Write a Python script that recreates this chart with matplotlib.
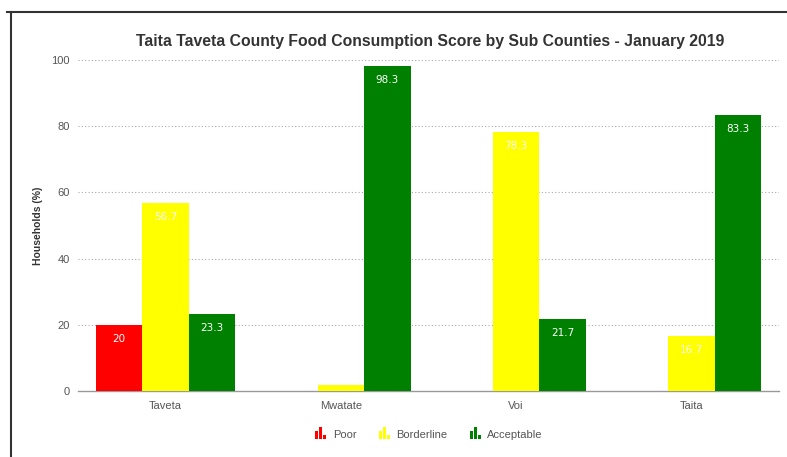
#!/usr/bin/env python3
import numpy as np
import matplotlib
matplotlib.use('Agg')
import matplotlib.pyplot as plt
from matplotlib.patches import Rectangle
from matplotlib.legend_handler import HandlerBase
from matplotlib.lines import Line2D

# Dati: percentuale di famiglie per categoria FCS
sub_counties = ['Taveta', 'Mwatate', 'Voi', 'Taita']
poor = [20, 0, 0, 0]
borderline = [56.7, 1.7, 78.3, 16.7]
acceptable = [23.3, 98.3, 21.7, 83.3]
yticks = [0, 20, 40, 60, 80, 100]

series = [('Poor', poor, '#ff0000'),
          ('Borderline', borderline, '#ffff00'),
          ('Acceptable', acceptable, '#008000')]

plt.rcParams['font.family'] = ['Liberation Sans', 'DejaVu Sans']


class BarIconHandler(HandlerBase):
    # piccola icona a barre per la legenda
    def create_artists(self, legend, orig_handle, xdescent, ydescent,
                       width, height, fontsize, trans):
        color = orig_handle.get_facecolor()
        w = width / 4.0
        heights = [0.75, 1.15, 0.4]
        arts = []
        for i, h in enumerate(heights):
            r = Rectangle((-xdescent + i * (w + width * 0.08), -ydescent),
                          w, height * h, facecolor=color, edgecolor='none',
                          transform=trans)
            arts.append(r)
        return arts


fig = plt.figure(figsize=(7.87, 4.57), dpi=100)
ax = fig.add_axes([0.0991, 0.1444, 0.8907, 0.7243])

x = np.arange(len(sub_counties))
bw = 0.265
handles = []
for i, (name, vals, col) in enumerate(series):
    pos = x + (i - 1) * bw
    bars = ax.bar(pos, vals, bw, color=col, edgecolor='none', label=name, zorder=3)
    handles.append(Rectangle((0, 0), 1, 1, facecolor=col))
    for b, v in zip(bars, vals):
        if v >= 5:
            ax.annotate(f'{v:g}', (b.get_x() + b.get_width() / 2, v),
                        xytext=(0, -14), textcoords='offset pixels',
                        ha='center', va='center', color='white',
                        fontsize=7.5, family='DejaVu Sans', zorder=4)

ax.set_xlim(-0.5, len(sub_counties) - 0.5)
ax.set_ylim(0, 100)
ax.set_yticks(yticks)
ax.set_xticks(x)
ax.set_xticklabels(sub_counties)
ax.tick_params(axis='both', length=0, colors='#555555', labelsize=8)
ax.tick_params(axis='y', pad=6)
ax.tick_params(axis='x', pad=7)

for y in yticks[1:]:
    ax.axhline(y, color='#aaaaaa', linewidth=0.8, linestyle=(0, (1, 2)), zorder=1)
for s in ['top', 'right', 'left']:
    ax.spines[s].set_visible(False)
ax.spines['bottom'].set_color('#999999')
ax.spines['bottom'].set_linewidth(1)

ax.set_ylabel('Households (%)', fontsize=7.5, fontweight='bold', color='#333333', labelpad=6)
fig.text(0.546, 0.910, 'Taita Taveta County Food Consumption Score by Sub Counties - January 2019',
         ha='center', va='center', fontsize=11.3, fontweight='bold', color='#333333')

leg = fig.legend(handles, [s[0] for s in series], loc='center',
                 bbox_to_anchor=(0.545, 0.05), ncol=3, frameon=False,
                 fontsize=8, handlelength=1.1, handleheight=1.0,
                 handletextpad=0.5, columnspacing=2.0,
                 handler_map={Rectangle: BarIconHandler()})
for t in leg.get_texts():
    t.set_color('#555555')

# cornice scura in alto e a sinistra
fig.add_artist(Line2D([7 / 787, 1], [1 - 12 / 457, 1 - 12 / 457],
                      transform=fig.transFigure, color='#333333', linewidth=1.5))
fig.add_artist(Line2D([11 / 787, 11 / 787], [0, 1 - 12 / 457],
                      transform=fig.transFigure, color='#333333', linewidth=1.5))

fig.savefig('out.png', dpi=100)
